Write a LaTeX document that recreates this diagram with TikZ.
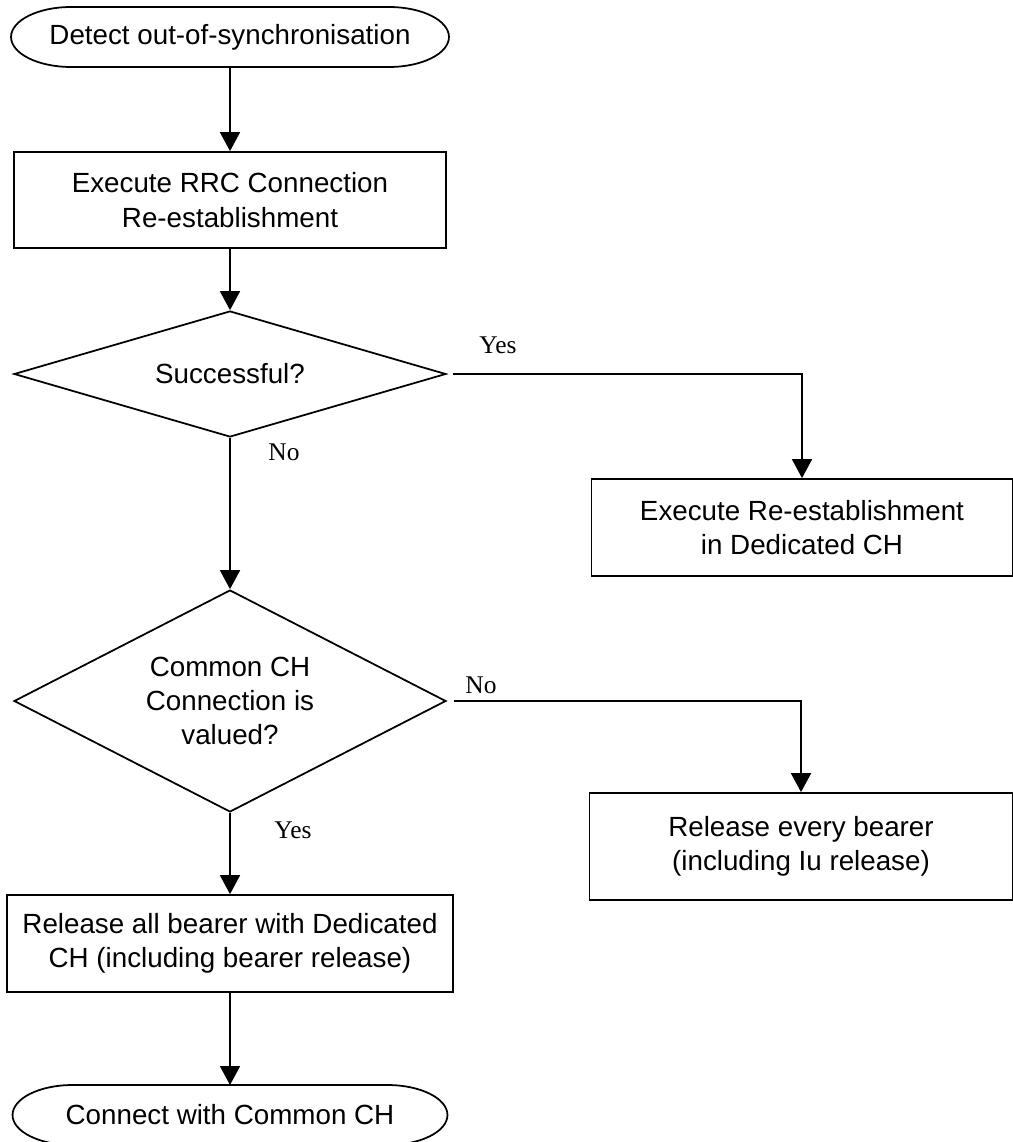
\documentclass[tikz,border=0pt]{standalone}
\usepackage{fontspec}
\setmainfont{Liberation Sans}
\newfontfamily\lblfont{Liberation Serif}
\usetikzlibrary{shapes,arrows.meta}

\begin{document}
\begin{tikzpicture}[x=0.02cm, y=-0.02cm, line width=1pt,
  font=\fontsize{15.8}{19.6}\selectfont,
  proc/.style={draw, rectangle, align=center, inner sep=0pt},
  test/.style={draw, diamond, shape aspect=2, align=center, inner sep=0pt, minimum width=8.64cm},
  term/.style={rectangle, align=center, inner sep=0pt, outer sep=0pt, minimum height=1.2cm},
  lbl/.style={font=\lblfont\fontsize{14.5}{17}\selectfont, inner sep=0pt},
  flow/.style={-{Triangle[length=0.38cm,width=0.4cm]}}]
\useasboundingbox (0,0) rectangle (1013,1142);
% Nodes
\def \st {(230,37)}
\def \ba {(230,200)}
\def \da {(230,374)}
\def \bb {(802,527.5)}
\def \db {(230,701)}
\def \bc {(801,846.5)}
\def \bd {(230,943.5)}
\def \en {(230,1115)}

\node[term, minimum width=8.76cm] (start) at \st {Detect out-of-synchronisation};
\node[proc, minimum width=8.64cm, minimum height=1.92cm] (exec) at \ba {Execute RRC Connection\\Re-establishment};
\node[test, minimum height=2.52cm] (succ) at \da {Successful?};
\node[proc, minimum width=8.42cm, minimum height=1.94cm] (dedic) at \bb {Execute Re-establishment\\in Dedicated CH};
\node[test, minimum height=4.44cm] (valued) at \db {Common CH\\Connection is\\valued?};
\node[proc, minimum width=8.46cm, minimum height=2.14cm] (relev) at \bc {Release every bearer\\(including Iu release)};
\node[proc, minimum width=8.92cm, minimum height=1.94cm] (relall) at \bd {Release all bearer with Dedicated\\CH (including bearer release)};
\node[term, minimum width=8.7cm] (conn) at \en {Connect with Common CH};

% start / end outlines, ellipse ends
\foreach \t in {start,conn}
  \draw ([xshift=1.2cm]\t.north west) -- ([xshift=-1.2cm]\t.north east)
    arc[start angle=90, end angle=-90, x radius=1.2cm, y radius=0.6cm]
    -- ([xshift=1.2cm]\t.south west)
    arc[start angle=270, end angle=90, x radius=1.2cm, y radius=0.6cm] -- cycle;

% answers
\node[lbl] (yes1) at (498,345) {Yes};
\node[lbl] (no1) at (284,452) {No};
\node[lbl] (no2) at (481,685) {No};
\node[lbl] (yes2) at (293,830) {Yes};

% edges
\draw[flow] (start.south) -- (exec.north);
\draw[flow] (exec.south) -- (succ.north);
\draw[flow, shorten <=0.12cm] (succ.east) -| (dedic.north);
\draw[flow] (succ.south) -- (valued.north);
\draw[flow, shorten <=0.14cm] (valued.east) -| (relev.north);
\draw[flow] (valued.south) -- (relall.north);
\draw[flow] (relall.south) -- (conn.north);
\end{tikzpicture}
\end{document}
